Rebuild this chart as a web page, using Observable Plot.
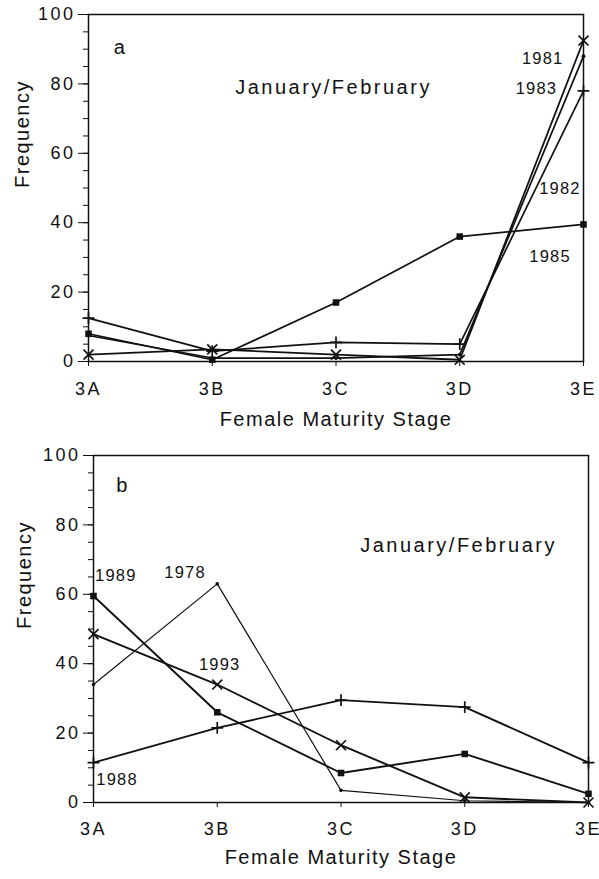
<!DOCTYPE html>
<html><head><meta charset="utf-8">
<script src="https://cdn.jsdelivr.net/npm/d3@7"></script>
<script src="https://cdn.jsdelivr.net/npm/@observablehq/plot@0.6"></script>
<style>
body{margin:0;background:#fff;}
#chart{width:599px;}
#chart svg{display:block;overflow:visible;}
[aria-label="title"]{letter-spacing:2.5px;}
[aria-label="axis-title"]{letter-spacing:1.5px;}
[aria-label="year"]{letter-spacing:1.2px;}
[aria-label="panel"]{letter-spacing:0.5px;}
[aria-label="x-axis tick label"],[aria-label="y-axis tick label"]{letter-spacing:2.5px;}
</style></head>
<body><div id="chart"></div>
<script>
// Categories and ticks
const stages = ["3A", "3B", "3C", "3D", "3E"];
const yMajor = [0, 20, 40, 60, 80, 100];
const yMinor = [0, 5, 10, 15, 20, 25, 30, 35, 40, 45, 50, 55, 60, 65, 70, 75, 80, 85, 90, 95, 100];
const xLabel = "Female Maturity Stage";
const yLabel = "Frequency";
const period = "January/February";

// Panel a values (frequency per stage 3A..3E)
const a1981 = [2, 3.5, 2, 0.5, 92.5];
const a1982 = [12.5, 3, 5.5, 5, 78];
const a1983 = [7.5, 1, 1, 2, 88];
const a1985 = [8, 0.5, 17, 36, 39.5];

// Panel b values
const b1978 = [34, 63, 3.5, 0.5, 0];
const b1988 = [11.5, 21.5, 29.5, 27.5, 11.5];
const b1989 = [59.5, 26, 8.5, 14, 2.5];
const b1993 = [48.5, 34, 16.5, 1.5, 0];

// Marker styles per year
const styles = {
  "1981": {symbol: "times", r: 4.6, stroked: true, sw: 1.8},
  "1982": {symbol: "plus", r: 3.9, stroked: true, sw: 1.7},
  "1983": {symbol: "circle", r: 1.9, stroked: false, sw: 1.7},
  "1985": {symbol: "square", r: 3.7, stroked: false, sw: 1.7},
  "1978": {symbol: "circle", r: 1.8, stroked: false, sw: 1.2},
  "1988": {symbol: "plus", r: 3.9, stroked: true, sw: 1.9},
  "1989": {symbol: "square", r: 3.7, stroked: false, sw: 1.9},
  "1993": {symbol: "times", r: 4.6, stroked: true, sw: 1.9}
};

// Annotations (stage index, frequency)
const notesA = [
  {text: "1981", x: 3.67, y: 87.3},
  {text: "1983", x: 3.62, y: 78.7},
  {text: "1982", x: 3.81, y: 49.8},
  {text: "1985", x: 3.73, y: 30.3}
];
const notesB = [
  {text: "1989", x: 0.18, y: 65.4},
  {text: "1978", x: 0.74, y: 66.3},
  {text: "1993", x: 1.02, y: 39.8},
  {text: "1988", x: 0.19, y: 6.6}
];

function rows(year, values) {
  return values.map((v, i) => ({year, i, v}));
}

function panel(series, notes, letter, letterPos, periodPos, layout) {
  const marks = [
    Plot.frame({stroke: "#111", strokeWidth: 1.5}),
    Plot.axisY(yMinor, {tickSize: 5, tickFormat: () => "", label: null, stroke: "#111"}),
    Plot.axisY(yMajor, {tickSize: 10, tickPadding: 3, label: null, stroke: "#111", fill: "#111", fontSize: 18}),
    Plot.axisX([0, 1, 2, 3, 4], {tickSize: 5, tickPadding: layout.xPad, tickFormat: i => stages[i], label: null, stroke: "#111", fill: "#111", fontSize: 18})
  ];
  for (const [year, values] of series) {
    const st = styles[year];
    const data = rows(year, values);
    marks.push(Plot.line(data, {x: "i", y: "v", stroke: "#111", strokeWidth: st.sw}));
    marks.push(Plot.dot(data, st.stroked
      ? {x: "i", y: "v", symbol: () => st.symbol, r: st.r, stroke: "#111", strokeWidth: 1.7, fill: "none"}
      : {x: "i", y: "v", symbol: () => st.symbol, r: st.r, fill: "#111", stroke: "none"}));
  }
  marks.push(Plot.text(notes, {x: "x", y: "y", text: "text", fontSize: 16.5, fill: "#111", ariaLabel: () => "year"}));
  marks.push(Plot.text([letter], {x: () => letterPos[0], y: () => letterPos[1], text: d => d, fontSize: 20, fill: "#111", ariaLabel: () => "panel"}));
  marks.push(Plot.text([period], {x: () => periodPos[0], y: () => periodPos[1], text: d => d, fontSize: 20, fill: "#111", ariaLabel: () => "title"}));
  marks.push(Plot.text([xLabel], {frameAnchor: "bottom", dy: layout.xLabelDy, text: d => d, fontSize: 20, fill: "#111", ariaLabel: () => "axis-title"}));
  marks.push(Plot.text([yLabel], {frameAnchor: "left", rotate: -90, dx: layout.yLabelDx, text: d => d, fontSize: 20, fill: "#111", ariaLabel: () => "axis-title"}));
  return Plot.plot({
    width: 599,
    height: layout.height,
    marginTop: layout.top,
    marginBottom: layout.bottom,
    marginLeft: layout.left,
    marginRight: layout.right,
    style: {fontFamily: "'Liberation Sans', Arial, sans-serif", fontSize: "18px", background: "#fff", color: "#111"},
    x: {domain: [0, 4]},
    y: {domain: [0, 100]},
    marks
  });
}

const chart = document.getElementById("chart");
chart.appendChild(panel(
  [["1985", a1985], ["1982", a1982], ["1983", a1983], ["1981", a1981]],
  notesA, "a", [0.25, 90.5], [1.98, 79],
  {height: 440, top: 14, bottom: 79, left: 88, right: 16, xPad: 16, xLabelDy: 64, yLabelDx: -66}
));
chart.appendChild(panel(
  [["1978", b1978], ["1988", b1988], ["1989", b1989], ["1993", b1993]],
  notesB, "b", [0.23, 91.4], [2.95, 74],
  {height: 439, top: 15, bottom: 77, left: 93, right: 11, xPad: 15, xLabelDy: 61, yLabelDx: -69}
));
</script>
</body></html>
